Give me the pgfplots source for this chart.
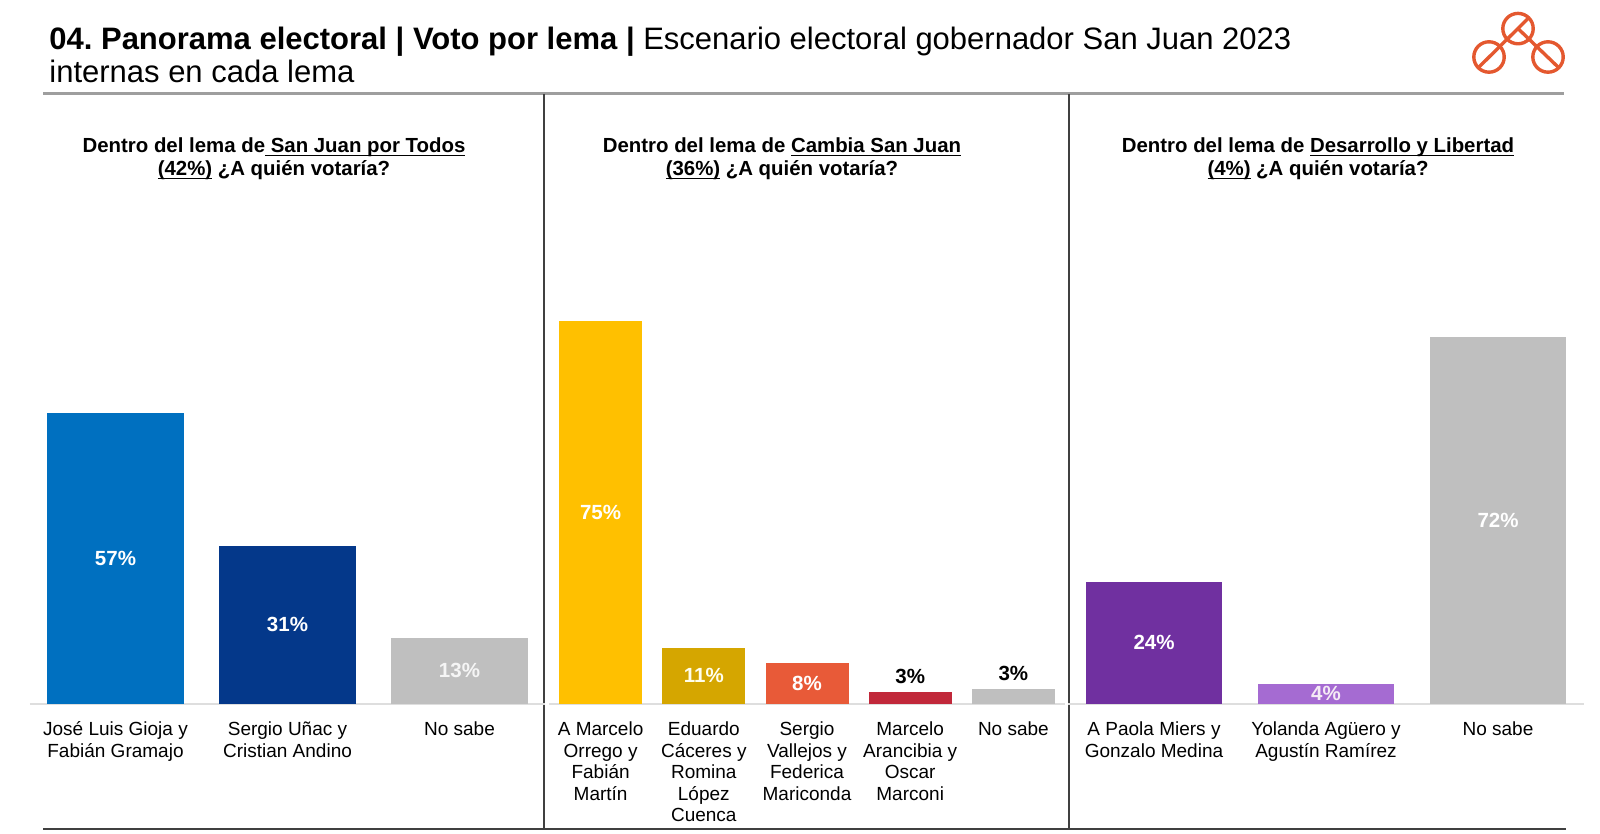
\documentclass[border=0pt]{standalone}
\usepackage{pgfplots}
\pgfplotsset{compat=1.18}
\usepackage{fontspec}
\setmainfont{Liberation Sans}
\frenchspacing
\definecolor{cblue}{HTML}{0070C0}
\definecolor{cdblue}{HTML}{04388A}
\definecolor{cgray}{HTML}{BFBFBF}
\definecolor{cyellow}{HTML}{FFC000}
\definecolor{cgold}{HTML}{D5A600}
\definecolor{corange}{HTML}{E85A38}
\definecolor{ccrimson}{HTML}{C1283A}
\definecolor{cpurple}{HTML}{7030A0}
\definecolor{clpurple}{HTML}{A56BD2}
\definecolor{clogo}{HTML}{E4582F}
\newcommand{\ul}[1]{\setbox0\hbox{#1}\rlap{\rule[-1.7pt]{\wd0}{0.55pt}}\box0\relax}
\pgfplotsset{
  panel/.style={
    ybar, scale only axis, width=258pt, height=255pt,
    ymin=0, ymax=100, xmin=-0.5,
    axis y line=none, axis x line*=bottom,
    x axis line style={draw=black!13, line width=0.6pt},
    xtick style={draw=none}, clip=false,
    xticklabel style={font=\fontsize{9.5}{10.75}\selectfont, align=center, inner sep=0pt, anchor=north, yshift=-4.5pt},
  },
  onebar/.style={fill=#1, draw=none, bar shift=0pt},
  inlabel/.style n args={3}{nodes near coords={#1}, every node near coord/.append style={anchor=center, inner sep=0pt, text=#3, font=\fontsize{10.25}{12}\selectfont\bfseries, yshift=-#2*1.275pt}},
  toplabel/.style={nodes near coords={#1}, every node near coord/.append style={anchor=base, inner sep=0pt, text=black, font=\fontsize{10.25}{12}\selectfont\bfseries, yshift=4.3pt}},
}
\begin{document}
\begin{tikzpicture}
\path[use as bounding box] (0,0) rectangle (800pt,417pt);
% title
\node[anchor=base west, inner sep=0pt, font=\fontsize{15.5}{18}\selectfont] at (24.5pt,392pt) {\textbf{04. Panorama electoral | Voto por lema |} Escenario electoral gobernador San Juan 2023};
\node[anchor=base west, inner sep=0pt, font=\fontsize{15.5}{18}\selectfont] at (24.5pt,375.8pt) {internas en cada lema};
% rules
\draw[line width=1.4pt, draw=black!38] (21.5pt,370.25pt) -- (782pt,370.25pt);
\draw[line width=0.6pt, draw=black!75] (21.5pt,2.5pt) -- (783pt,2.5pt);
\draw[line width=0.6pt, draw=black!75] (272pt,370pt) -- (272pt,2.5pt);
\draw[line width=0.6pt, draw=black!75] (534.5pt,370pt) -- (534.5pt,2.5pt);
% logo
\begin{scope}[draw=clogo, line width=1.7pt]
\draw (759pt,402.7pt) circle (7.6pt);
\draw (744.5pt,388.5pt) circle (7.6pt);
\draw (774pt,388.5pt) circle (7.6pt);
\draw (764.4pt,408.1pt) -- (739.1pt,383.1pt);
\draw (759pt,402.7pt) -- (779.4pt,383.1pt);
\end{scope}
% subtitles
\begin{scope}[every node/.style={anchor=base, inner sep=0pt, font=\fontsize{10.2}{12}\selectfont\bfseries}]
\node at (137pt,340.5pt) {Dentro del lema de\ul{ San Juan por Todos}};
\node at (137pt,329pt) {\ul{(42\%)} ¿A quién votaría?};
\node at (391pt,340.5pt) {Dentro del lema de \ul{Cambia San Juan}};
\node at (391pt,329pt) {\ul{(36\%)} ¿A quién votaría?};
\node at (659pt,340.5pt) {Dentro del lema de \ul{Desarrollo y Libertad}};
\node at (659pt,329pt) {\ul{(4\%)} ¿A quién votaría?};
\end{scope}
% panel 1
\begin{axis}[panel, at={(14.75pt,65pt)}, anchor=south west, xmax=2.5, bar width=68.5pt,
  xtick={0,1,2}, xticklabels={{José Luis Gioja y\\Fabián Gramajo},{Sergio Uñac y\\Cristian Andino},{No sabe}}]
\addplot[onebar=cblue, inlabel={57\%}{57}{white}] coordinates {(0,57)};
\addplot[onebar=cdblue, inlabel={31\%}{31}{white}] coordinates {(1,31)};
\addplot[onebar=cgray, inlabel={13\%}{13}{black!4}] coordinates {(2,13)};
\end{axis}
% panel 2
\begin{axis}[panel, at={(274.5pt,65pt)}, anchor=south west, xmax=4.5, bar width=41.5pt,
  xtick={0,1,2,3,4}, xticklabels={{A Marcelo\\Orrego y\\Fabián\\Martín},{Eduardo\\Cáceres y\\Romina\\López\\Cuenca},{Sergio\\Vallejos y\\Federica\\Mariconda},{Marcelo\\Arancibia y\\Oscar\\Marconi},{No sabe}}]
\addplot[onebar=cyellow, inlabel={75\%}{75}{white}] coordinates {(0,75)};
\addplot[onebar=cgold, inlabel={11\%}{11}{white!92!yellow}] coordinates {(1,11)};
\addplot[onebar=corange, inlabel={8\%}{8}{white}] coordinates {(2,8)};
\addplot[onebar=ccrimson, toplabel={3\%}] coordinates {(3,2.4)};
\addplot[onebar=cgray, toplabel={3\%}] coordinates {(4,3)};
\end{axis}
% panel 3
\begin{axis}[panel, at={(534pt,65pt)}, anchor=south west, xmax=2.5, bar width=68.25pt,
  xtick={0,1,2}, xticklabels={{A Paola Miers y\\Gonzalo Medina},{Yolanda Agüero y\\Agustín Ramírez},{No sabe}}]
\addplot[onebar=cpurple, inlabel={24\%}{24}{white}] coordinates {(0,24)};
\addplot[onebar=clpurple, inlabel={4\%}{4}{white!92!violet}] coordinates {(1,4)};
\addplot[onebar=cgray, inlabel={72\%}{72}{white}] coordinates {(2,72)};
\end{axis}
\end{tikzpicture}
\end{document}
